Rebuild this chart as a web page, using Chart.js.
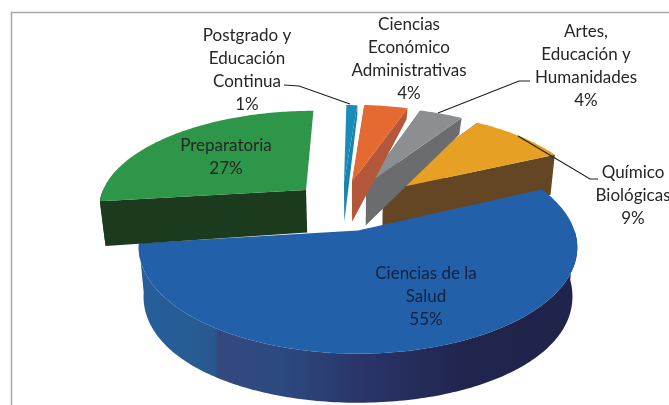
<!DOCTYPE html>
<html>
<head>
<meta charset="utf-8">
<style>
  html, body { margin: 0; padding: 0; background: #fff; overflow: hidden; }
  canvas { display: block; filter: blur(0.45px); }
</style>
<script src="https://cdn.jsdelivr.net/npm/chart.js@4"></script>
</head>
<body>
<canvas id="myChart" width="669" height="405"></canvas>
<script>
// Clockwise from the right edge of the big slice
const categories = ['Ciencias de la Salud', 'Preparatoria', 'Postgrado y Educación Continua',
  'Ciencias Económico Administrativas', 'Artes, Educación y Humanidades', 'Químico Biológicas'];
const shares = [55, 27, 1, 4, 4, 9];

const labelLines = [
  ['Ciencias de la', 'Salud'],
  ['Preparatoria'],
  ['Postgrado y', 'Educación', 'Continua'],
  ['Ciencias', 'Económico', 'Administrativas'],
  ['Artes,', 'Educación y', 'Humanidades'],
  ['Químico', 'Biológicas'],
];

const topColors  = ['#2261a9', '#2e9648', '#1a8cb8', '#e46a32', '#8c8f92', '#e6a024'];
const wallColors = [null, '#1c3a1e', '#1a82ab', '#b5573a', '#6b6c6e', '#644624'];

// Where each slice was pulled out to, in pie radii (right, towards the viewer)
const explodeU = [0, -0.256, -0.07, -0.03, 0.04, 0.123];
const explodeV = [-0.015, -0.432, -0.517, -0.52, -0.487, -0.42];
// The yellow wall runs down behind the blue slice, the green one just over it
const wallScale = [1, 1.03, 1, 1, 1, 1.25];

// Label block: centre x, first line y
const labelX = [426, 226, 247, 409, 586, 633];
const labelY = [274, 146, 36, 25, 32, 173];

// Leader lines, one polyline per outside label
const leaders = [
  [[284, 85], [299, 86], [350, 104]],
  [[530, 81], [519, 81], [438, 113]],
  [[598, 179], [590, 179], [518, 136]],
];

// Perspective of the pie plane, fitted to the picture
const view = { cx: 358, cy: 232, a: 217, b: 104, k: 0.16 };

function project(u, v) {
  const w = 1 - view.k * v;
  return { x: view.cx + view.a * u / w, y: view.cy + view.b * v / w, v };
}

// Bottom rim of a point: the wall gets shorter towards the back and leans in
function drop(p, scale) {
  const h = (47.8 + 10.8 * p.v - 9.58 * p.v * p.v) * scale;
  return { x: p.x + (view.cx - p.x) * 0.022, y: p.y + h };
}

function fillPoly(ctx, pts, color) {
  ctx.beginPath();
  pts.forEach((p, i) => { if (i === 0) ctx.moveTo(p.x, p.y); else ctx.lineTo(p.x, p.y); });
  ctx.closePath();
  ctx.fillStyle = color;
  ctx.fill();
}

function blueWall(ctx) {
  const g = ctx.createLinearGradient(140, 0, 578, 0);
  g.addColorStop(0, '#275f9b');
  g.addColorStop(0.17, '#27598f');
  g.addColorStop(0.18, '#34487f');
  g.addColorStop(0.32, '#2c4a80');
  g.addColorStop(0.51, '#2a3468');
  g.addColorStop(0.75, '#20254d');
  g.addColorStop(1, '#20234a');
  return g;
}

const pie3d = {
  id: 'pie3d',
  beforeDraw(chart) {
    // the grey chart frame, it runs off the right and bottom of the crop
    const { ctx } = chart;
    ctx.save();
    ctx.strokeStyle = '#a6a6a6';
    ctx.lineWidth = 1.5;
    ctx.beginPath();
    ctx.moveTo(11.5, 405);
    ctx.lineTo(11.5, 12.5);
    ctx.lineTo(669, 12.5);
    ctx.stroke();
    ctx.restore();
  },
  beforeDatasetsDraw(chart) {
    const { ctx } = chart;
    const arcs = chart.getDatasetMeta(0).data;
    // the blue slice hides the yellow wall, the green wall sits over the blue slice
    const order = [5, 4, 3, 2, 0, 1];
    order.forEach(i => {
      const { startAngle, endAngle } = arcs[i].getProps(['startAngle', 'endAngle'], true);
      const ou = explodeU[i], ov = explodeV[i];
      const rim = [], front = [];
      const steps = Math.max(4, Math.ceil((endAngle - startAngle) * 180 / Math.PI));
      for (let s = 0; s <= steps; s++) {
        const t = startAngle + (endAngle - startAngle) * s / steps;
        const p = project(ou + Math.cos(t), ov + Math.sin(t));
        rim.push(p);
        if (Math.sin(t) > 0) front.push(p);
      }
      const apex = project(ou, ov);
      const wall = i === 0 ? blueWall(ctx) : wallColors[i];
      const down = p => drop(p, wallScale[i]);

      if (front.length) fillPoly(ctx, front.concat(front.map(down).reverse()), wall);
      if (i !== 0) {
        [rim[0], rim[rim.length - 1]].forEach(p => {
          if (Math.abs(p.x - apex.x) > 8) fillPoly(ctx, [apex, p, down(p), down(apex)], wall);
        });
      }
      fillPoly(ctx, [apex].concat(rim), topColors[i]);
    });
    ctx.save();
    ctx.strokeStyle = '#1f1f1f';
    ctx.lineWidth = 1.2;
    leaders.forEach(line => {
      ctx.beginPath();
      line.forEach((p, i) => { if (i === 0) ctx.moveTo(p[0], p[1]); else ctx.lineTo(p[0], p[1]); });
      ctx.stroke();
    });
    ctx.restore();
    return false;
  },
  afterDraw(chart) {
    const { ctx } = chart;
    ctx.save();
    ctx.font = '17px Lato';
    ctx.textAlign = 'center';
    ctx.textBaseline = 'middle';
    labelLines.forEach((lines, i) => {
      ctx.fillStyle = i === 0 ? '#14203f' : '#262626';
      lines.concat(shares[i] + '%').forEach((txt, n) => {
        ctx.fillText(txt, labelX[i], labelY[i] + n * 22.7);
      });
    });
    ctx.restore();
  }
};

new Chart(document.getElementById('myChart'), {
  type: 'pie',
  data: { labels: categories, datasets: [{ data: shares, backgroundColor: topColors }] },
  plugins: [pie3d],
  options: {
    responsive: false,
    animation: false,
    rotation: 65,
    plugins: { legend: { display: false }, tooltip: { enabled: false } }
  }
});
</script>
</body>
</html>
